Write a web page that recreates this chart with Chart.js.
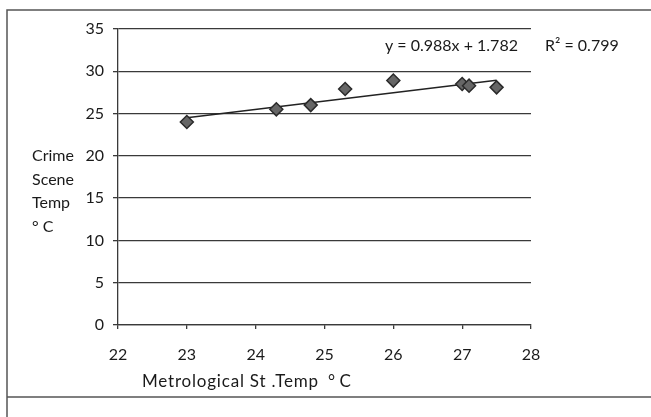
<!DOCTYPE html>
<html>
<head>
<meta charset="utf-8">
<script src="https://cdn.jsdelivr.net/npm/chart.js@4/dist/chart.umd.min.js"></script>
<style>
  html, body { margin: 0; padding: 0; background: #fff; }
  #wrap { width: 651px; height: 417px; position: relative; }
</style>
</head>
<body>
<div id="wrap"><canvas id="c" width="651" height="417"></canvas></div>
<script>
// ---- data ----
const metroTemp = [23.0, 24.3, 24.8, 25.3, 26.0, 27.0, 27.1, 27.5];
const crimeTemp = [24.0, 25.5, 26.0, 27.9, 28.9, 28.5, 28.3, 28.1];
const trendSlope = 0.988;
const trendIntercept = 1.782;
const rSquared = 0.799;
const xTicks = [22, 23, 24, 25, 26, 27, 28];
const yTicks = [0, 5, 10, 15, 20, 25, 30, 35];
const yTitleLines = ['Crime', 'Scene', 'Temp', '\u00B0 C'];
const xTitleMain = 'Metrological St .Temp';
const xTitleUnit = '\u00B0 C';
const eqText = 'y = ' + trendSlope.toFixed(3) + 'x + ' + trendIntercept.toFixed(3);
const r2Text = 'R\u00B2 = ' + rSquared.toFixed(3);

const FONT = 'Lato, "Open Sans", sans-serif';
const TXT = '#1a1a1a';
const LINE = '#3a3a3a';

const xMin = Math.min(...metroTemp), xMax = Math.max(...metroTemp);
const trendPts = [xMin, xMax].map(x => ({x: x, y: trendSlope * x + trendIntercept}));
const scatterPts = metroTemp.map((x, i) => ({x: x, y: crimeTemp[i]}));

const decor = {
  id: 'decor',
  afterDraw(chart) {
    const ctx = chart.ctx;
    ctx.save();
    // outer frame
    ctx.strokeStyle = '#555';
    ctx.lineWidth = 1.5;
    ctx.beginPath();
    ctx.moveTo(651, 10); ctx.lineTo(7, 10); ctx.lineTo(7, 417);
    ctx.moveTo(7, 397); ctx.lineTo(651, 397);
    ctx.stroke();
    ctx.fillStyle = TXT;
    ctx.textBaseline = 'middle';
    ctx.textAlign = 'left';
    ctx.font = '16px ' + FONT;
    // y title, horizontal lines
    yTitleLines.forEach((t, i) => ctx.fillText(t, 32, 156 + i * 23.5));
    // regression labels
    ctx.fillText(eqText, 385, 46);
    ctx.fillText(r2Text, 545, 46);
    // x title
    ctx.font = '17px ' + FONT;
    ctx.letterSpacing = '0.8px';
    ctx.fillText(xTitleMain, 142, 382);
    ctx.letterSpacing = '0px';
    ctx.fillText(xTitleUnit, 328, 382);
    ctx.restore();
  }
};

new Chart(document.getElementById('c'), {
  type: 'scatter',
  data: {
    datasets: [
      {
        type: 'line',
        data: trendPts,
        borderColor: '#222',
        borderWidth: 1.5,
        pointRadius: 0,
        fill: false,
        order: 2
      },
      {
        data: scatterPts,
        pointStyle: 'rectRot',
        pointRadius: 6.5,
        backgroundColor: '#666',
        borderColor: '#2a2a2a',
        borderWidth: 1.5,
        order: 1
      }
    ]
  },
  options: {
    responsive: false,
    animation: false,
    devicePixelRatio: 1,
    layout: { padding: { left: 0, right: 120, top: 29, bottom: 32 } },
    plugins: { legend: { display: false }, tooltip: { enabled: false } },
    scales: {
      x: {
        type: 'linear',
        min: 22, max: 28,
        afterBuildTicks: s => { s.ticks = xTicks.map(v => ({value: v})); },
        afterFit: s => { s.height = 60; },
        grid: { drawOnChartArea: false, drawTicks: true, tickLength: 4, color: LINE, lineWidth: 1.3 },
        border: { display: true, color: LINE, width: 1.3 },
        ticks: { color: TXT, font: { family: FONT, size: 16 }, padding: 16, maxRotation: 0 }
      },
      y: {
        min: 0, max: 35,
        afterBuildTicks: s => { s.ticks = yTicks.map(v => ({value: v})); },
        afterFit: s => { s.width = 118; },
        grid: { drawOnChartArea: true, drawTicks: true, tickLength: 5, color: LINE, lineWidth: 1.3 },
        border: { display: true, color: LINE, width: 1.3 },
        ticks: { color: TXT, font: { family: FONT, size: 16 }, padding: 9 }
      }
    }
  },
  plugins: [decor]
});
</script>
</body>
</html>
